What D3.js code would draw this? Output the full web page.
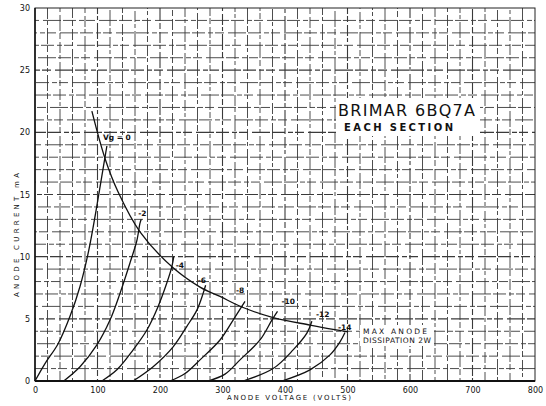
<!DOCTYPE html>
<html lang="en">
<head>
  <meta charset="utf-8">
  <title>Brimar 6BQ7A anode characteristics</title>
  <script src="https://d3js.org/d3.v7.min.js"></script>
  <style>
    body { margin: 0; background: #fff; }
    text { font-family: "DejaVu Sans", sans-serif; fill: #111; }
  </style>
</head>
<body>
<script>
// axis ticks
var voltTicks = [0, 100, 200, 300, 400, 500, 600, 700, 800];
var currentTicks = [0, 5, 10, 15, 20, 25, 30];

// grid bias of each curve
var biasLabels = ["Vg = 0", "-2", "-4", "-6", "-8", "-10", "-12", "-14"];

// anode characteristic curves, [anode volts, anode mA]
var curveVg0  = [[0,0],[16,1.4],[37,3.0],[56,5.2],[72,7.6],[86,10.5],[97,13.5],[106,16.2],[115,18.9]];
var curveVg2  = [[46,0],[72,1.15],[99,2.9],[120,4.9],[136,7.05],[152,9.5],[163,11.3],[168,12.7],[170,13.0]];
var curveVg4  = [[107,0],[131,0.9],[157,2.5],[179,4.1],[197,6.0],[211,7.9],[219,9.2],[222,10.0]];
var curveVg6  = [[157,0],[189,1.15],[221,2.75],[243,4.4],[259,5.7],[269,7.05],[273,7.7]];
var curveVg8  = [[216,0],[240,0.6],[264,1.7],[296,3.3],[317,4.9],[336,6.4]];
var curveVg10 = [[277,0],[304,0.55],[328,1.7],[360,3.3],[379,4.9],[388,5.6]];
var curveVg12 = [[333,0],[381,1.0],[413,2.5],[435,3.85],[443,4.8]];
var curveVg14 = [[395,0],[440,0.9],[472,2.1],[488,3.15],[496,3.9]];

// max anode dissipation 2W line
var curveMaxDiss = [[91,21.7],[112,17.9],[133,15.2],[168,12.0],[221,9.1],[264,7.55],[296,6.8],[331,5.95],[381,5.1],[440,4.5],[477,4.15],[501,3.95]];

function draw() {
  var W = 546, H = 406;
  var pl = 35, pr = 535, pt = 8, pb = 381;

  var x = d3.scaleLinear().domain([0, 800]).range([pl, pr]);
  var y = d3.scaleLinear().domain([0, 30]).range([pb, pt]);

  var svg = d3.select("body").append("svg")
    .attr("width", W)
    .attr("height", H);

  // broken-looking grid, every 20 V and every 1 mA
  var gridV = d3.range(20, 800, 20);
  var gridI = d3.range(1, 30, 1);

  svg.append("g").selectAll("line")
    .data(gridV)
    .enter().append("line")
    .attr("x1", function(d) { return x(d); })
    .attr("x2", function(d) { return x(d); })
    .attr("y1", pt)
    .attr("y2", pb)
    .attr("stroke", "#3a3a3a")
    .attr("stroke-width", function(d) { return d % 100 == 0 ? 1.1 : 0.9; })
    .attr("stroke-dasharray", "11,2,4,3,16,2,6,3")
    .attr("stroke-dashoffset", function(d, i) { return (i * 13) % 47; });

  svg.append("g").selectAll("line")
    .data(gridI)
    .enter().append("line")
    .attr("y1", function(d) { return y(d); })
    .attr("y2", function(d) { return y(d); })
    .attr("x1", pl)
    .attr("x2", pr)
    .attr("stroke", "#3a3a3a")
    .attr("stroke-width", function(d) { return d % 5 == 0 ? 1.1 : 0.9; })
    .attr("stroke-dasharray", "13,3,5,2,9,4,18,2")
    .attr("stroke-dashoffset", function(d, i) { return (i * 17) % 56; });

  // frame
  svg.append("rect")
    .attr("x", pl).attr("y", pt)
    .attr("width", pr - pl).attr("height", pb - pt)
    .attr("fill", "none").attr("stroke", "#222").attr("stroke-width", 1);
  svg.append("line")
    .attr("x1", pl).attr("x2", pr).attr("y1", pb).attr("y2", pb)
    .attr("stroke", "#111").attr("stroke-width", 1.8);
  svg.append("line")
    .attr("x1", pl).attr("x2", pl).attr("y1", pt).attr("y2", pb)
    .attr("stroke", "#111").attr("stroke-width", 1.5);

  // title blocks sit on cleared paper
  var clearBoxes = [[336, 98, 144, 38], [360, 325, 74, 21]];
  svg.append("g").selectAll("rect")
    .data(clearBoxes)
    .enter().append("rect")
    .attr("x", function(d) { return d[0]; })
    .attr("y", function(d) { return d[1]; })
    .attr("width", function(d) { return d[2]; })
    .attr("height", function(d) { return d[3]; })
    .attr("fill", "#fff");

  // axes
  var xAxis = d3.axisBottom(x).tickValues(voltTicks).tickSize(0).tickPadding(6)
    .tickFormat(d3.format("d"));
  var gx = svg.append("g").attr("transform", "translate(0," + pb + ")").call(xAxis);
  gx.select(".domain").remove();
  gx.selectAll("text").style("font-size", "8px").attr("fill", "#111");

  var yAxis = d3.axisLeft(y).tickValues(currentTicks).tickSize(0).tickPadding(5)
    .tickFormat(d3.format("d"));
  var gy = svg.append("g").attr("transform", "translate(" + pl + ",0)").call(yAxis);
  gy.select(".domain").remove();
  gy.selectAll("text").style("font-size", "8px").attr("fill", "#111");

  svg.append("text")
    .attr("x", 227).attr("y", 400)
    .attr("textLength", 124)
    .style("font-size", "7px")
    .text("ANODE VOLTAGE (VOLTS)");

  svg.append("text")
    .attr("transform", "translate(19,297) rotate(-90)")
    .attr("textLength", 124)
    .style("font-size", "7px")
    .text("ANODE CURRENT mA");

  // curves
  var curves = [curveVg0, curveVg2, curveVg4, curveVg6, curveVg8, curveVg10, curveVg12, curveVg14];

  var line = d3.line()
    .x(function(d) { return x(d[0]); })
    .y(function(d) { return y(d[1]); })
    .curve(d3.curveCatmullRom.alpha(0.5));

  svg.append("g").selectAll("path")
    .data(curves)
    .enter().append("path")
    .attr("d", line)
    .attr("fill", "none")
    .attr("stroke", "#111")
    .attr("stroke-width", 1.3);

  svg.append("path")
    .attr("d", line(curveMaxDiss))
    .attr("fill", "none")
    .attr("stroke", "#111")
    .attr("stroke-width", 1.3);

  // bias labels placed next to the top end of each curve
  var labelOffset = [[-4, -6], [-3, -3], [2, 11], [-8, -2], [-9, -8], [4, -7], [4, -4], [-7, -3]];
  svg.append("g").selectAll("text")
    .data(curves)
    .enter().append("text")
    .attr("x", function(d, i) { return x(d[d.length - 1][0]) + labelOffset[i][0]; })
    .attr("y", function(d, i) { return y(d[d.length - 1][1]) + labelOffset[i][1]; })
    .style("font-size", "7.5px")
    .style("font-weight", "bold")
    .text(function(d, i) { return biasLabels[i]; });

  svg.append("text")
    .attr("x", 363).attr("y", 334)
    .attr("textLength", 64)
    .style("font-size", "7.5px")
    .text("MAX  ANODE");
  svg.append("text")
    .attr("x", 363).attr("y", 343)
    .attr("textLength", 68)
    .style("font-size", "7.5px")
    .text("DISSIPATION  2W");

  svg.append("text")
    .attr("x", 338).attr("y", 116)
    .attr("textLength", 137)
    .style("font-size", "16px")
    .text("BRIMAR  6BQ7A");
  svg.append("text")
    .attr("x", 344).attr("y", 131)
    .attr("textLength", 109)
    .style("font-size", "10px")
    .style("font-weight", "bold")
    .text("EACH SECTION");
}

draw();
</script>
</body>
</html>
